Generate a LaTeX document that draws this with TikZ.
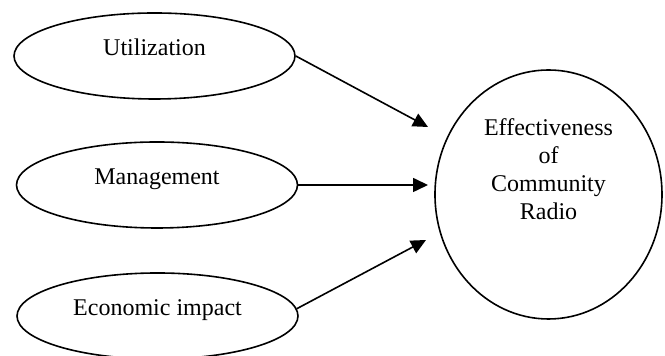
\documentclass[tikz,border=0pt]{standalone}
\usepackage{fontspec}
\setmainfont{Liberation Serif}
\usetikzlibrary{shapes.geometric,arrows.meta}
\tikzset{
  factor/.style = {ellipse, draw, line width=0.8pt,
                   minimum width=140.5pt, minimum height=43pt,
                   inner sep=0pt, text height=6pt, text depth=6pt},
  outcome/.style = {ellipse, draw, line width=0.8pt,
                    minimum width=113.5pt, minimum height=124.5pt,
                    inner sep=0pt},
  link/.style = {line width=0.8pt, -{Triangle[length=7.5pt,width=7pt]}}
}

\begin{document}
\begin{tikzpicture}[x=0.5pt,y=-0.5pt,
    every node/.style={font=\fontsize{12}{14}\selectfont}]
	\useasboundingbox (0,0) rectangle (665,356);

	% Factors
	\node[factor] (util) at (154.5,56)  {Utilization};
	\node[factor] (mgmt) at (157,185)   {Management};
	\node[factor] (econ) at (157.5,316) {Economic impact};

	% Outcome
	\node[outcome] (eff) at (548.5,194.5) {};
	\node[align=center] (efftext) at ([yshift=12.5pt]eff.center) {Effectiveness\\of\\Community\\Radio};

	% Arrows
	\coordinate (tip1) at (428,127);
	\coordinate (tip2) at (428,185);
	\coordinate (tip3) at (426,240);
	\draw[link] (util.east) -- (tip1);
	\draw[link] (mgmt.east) -- (tip2);
	\draw[link] (econ.3)    -- (tip3);

\end{tikzpicture}
\end{document}
